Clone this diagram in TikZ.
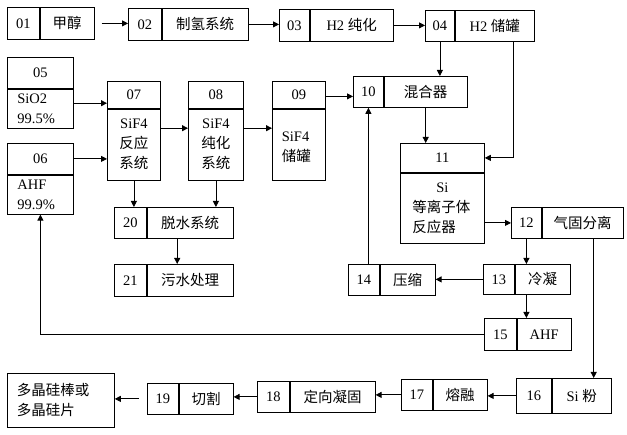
\documentclass[tikz,border=0pt]{standalone}
\usepackage{fontspec}
\setmainfont{Liberation Serif}
\newfontfamily\cjk{Noto Sans CJK SC}
\newcommand{\zh}[1]{{\cjk #1}}
\usepackage{tikz}
\usetikzlibrary{arrows.meta, positioning}
\tikzset{
  cell/.style    = {draw, line width=0.8pt, inner sep=0pt,
                    font=\fontsize{14.5}{20}\selectfont},
  numcell/.style = {cell, anchor=north west},
  txtcell/.style = {cell, align=center},
  lftcell/.style = {cell, align=left, text width=#1},
  flow/.style    = {line width=0.8pt, -{Triangle[length=6pt, width=6pt]}},
  plain/.style   = {line width=0.8pt},
}

\begin{document}
\begin{tikzpicture}[x=1pt, y=-1pt]
  \useasboundingbox (0,0) rectangle (627,435);
  % top row: hydrogen
  \node[numcell, minimum width=32pt, minimum height=32pt] (n01) at (7,7) {01};
  \node[txtcell, minimum width=54pt, minimum height=32pt, right=0pt of n01] (t01) {\zh{甲醇}};
  \node[numcell, minimum width=33pt, minimum height=32pt] (n02) at (128,8) {02};
  \node[txtcell, minimum width=86pt, minimum height=32pt, right=0pt of n02] (t02) {\zh{制氢系统}};
  \node[numcell, minimum width=30pt, minimum height=32pt] (n03) at (279,9) {03};
  \node[txtcell, minimum width=83pt, minimum height=32pt, right=0pt of n03] (t03) {H2 \zh{纯化}};
  \node[numcell, minimum width=29pt, minimum height=31pt] (n04) at (425,10) {04};
  \node[txtcell, minimum width=79pt, minimum height=31pt, right=0pt of n04] (t04) {H2 \zh{储罐}};
  \node[numcell, minimum width=30pt, minimum height=31pt] (n10) at (353,76) {10};
  \node[txtcell, minimum width=83pt, minimum height=31pt, right=0pt of n10] (t10) {\zh{混合器}};
  % raw materials and SiF4 line
  \node[numcell, minimum width=66pt, minimum height=31pt] (n05) at (7,57) {05};
  \node[lftcell=46pt, minimum width=66pt, minimum height=39pt, below=0pt of n05] (b05) {SiO2\\99.5\%};
  \node[numcell, minimum width=66pt, minimum height=31pt] (n06) at (7,143) {06};
  \node[lftcell=46pt, minimum width=66pt, minimum height=39pt, below=0pt of n06] (b06) {AHF\\99.9\%};
  \node[numcell, minimum width=53pt, minimum height=27pt] (n07) at (107,81) {07};
  \node[txtcell, minimum width=53pt, minimum height=71pt, below=0pt of n07] (b07) {SiF4\\\zh{反应}\\\zh{系统}};
  \node[numcell, minimum width=55pt, minimum height=27pt] (n08) at (188,81) {08};
  \node[txtcell, minimum width=55pt, minimum height=71pt, below=0pt of n08] (b08) {SiF4\\\zh{纯化}\\\zh{系统}};
  \node[numcell, minimum width=53pt, minimum height=27pt] (n09) at (272,81) {09};
  \node[lftcell=34pt, minimum width=53pt, minimum height=71pt, below=0pt of n09] (b09) {\\[-6pt]SiF4\\\zh{储罐}};
  \node[numcell, minimum width=84pt, minimum height=29pt] (n11) at (400,143) {11};
  \node[lftcell=60pt, minimum width=84pt, minimum height=70pt, below=0pt of n11] (b11)
    {\makebox[60pt]{Si}\\\zh{等离子体}\\\zh{反应器}\\[2pt]};
  \node[numcell, minimum width=32pt, minimum height=31pt] (n20) at (114,207) {20};
  \node[txtcell, minimum width=86pt, minimum height=31pt, right=0pt of n20] (t20) {\zh{脱水系统}};
  \node[numcell, minimum width=32pt, minimum height=32pt] (n21) at (114,264) {21};
  \node[txtcell, minimum width=86pt, minimum height=32pt, right=0pt of n21] (t21) {\zh{污水处理}};
  % separation loop
  \node[numcell, minimum width=30pt, minimum height=31pt] (n12) at (511,207) {12};
  \node[txtcell, minimum width=81pt, minimum height=31pt, right=0pt of n12] (t12) {\zh{气固分离}};
  \node[numcell, minimum width=31pt, minimum height=30pt] (n13) at (483,264) {13};
  \node[txtcell, minimum width=55pt, minimum height=30pt, right=0pt of n13] (t13) {\zh{冷凝}};
  \node[numcell, minimum width=31pt, minimum height=31pt] (n14) at (348,264) {14};
  \node[txtcell, minimum width=55pt, minimum height=31pt, right=0pt of n14] (t14) {\zh{压缩}};
  \node[numcell, minimum width=32pt, minimum height=32pt] (n15) at (484,318) {15};
  \node[txtcell, minimum width=54pt, minimum height=32pt, right=0pt of n15] (t15) {AHF};
  % bottom row: silicon
  \node[numcell, minimum width=35pt, minimum height=35pt] (n16) at (516,378) {16};
  \node[txtcell, minimum width=59pt, minimum height=35pt, right=0pt of n16] (t16) {Si \zh{粉}};
  \node[numcell, minimum width=31pt, minimum height=31pt] (n17) at (401,379) {17};
  \node[txtcell, minimum width=54pt, minimum height=31pt, right=0pt of n17] (t17) {\zh{熔融}};
  \node[numcell, minimum width=32pt, minimum height=31pt] (n18) at (257,381) {18};
  \node[txtcell, minimum width=85pt, minimum height=31pt, right=0pt of n18] (t18) {\zh{定向凝固}};
  \node[numcell, minimum width=31pt, minimum height=31pt] (n19) at (147,383) {19};
  \node[txtcell, minimum width=54pt, minimum height=31pt, right=0pt of n19] (t19) {\zh{切割}};
  \node[numcell, lftcell=88pt, minimum width=107pt, minimum height=54pt] (fin) at (7,373)
    {\zh{多晶硅棒或}\\\zh{多晶硅片}};

  \draw[flow, shorten <=7pt] (t01.east) -- (t01.east -| n02.west);
  \draw[flow] (t02.east) -- (t02.east -| n03.west);
  \draw[flow] (t03.east) -- (t03.east -| n04.west);
  \draw[flow] (n04.south) -- (n04.south |- t10.north);
  \draw[flow] ([xshift=18.5pt]t04.south) |- (n11.east);
  \draw[flow] ([yshift=5.5pt]b05.east) -- ([yshift=5.5pt]b05.east -| n07.west);
  \draw[flow] (n06.east) -- (n06.east -| b07.west);
  \draw[flow] ([yshift=16.5pt]b07.east) -- ([yshift=16.5pt]b07.east -| b08.west);
  \draw[flow] ([yshift=16.5pt]b08.east) -- ([yshift=16.5pt]b08.east -| b09.west);
  \draw[flow] ([yshift=-1.5pt]n09.east) -- ([yshift=-1.5pt]n09.east -| n10.west);
  \draw[flow] (b07.south) -- (b07.south |- n20.north);
  \draw[flow] (b08.south) -- (b08.south |- t20.north);
  \draw[flow] ([xshift=-13pt]t20.south) -- ([xshift=-13pt]t21.north);
  \draw[flow] (t10.south) -- (t10.south |- n11.north);
  \draw[flow] (b11.east |- n12.west) -- (n12.west);
  \draw[flow] (n12.south) -- (n12.south |- t13.north);
  \draw[flow] (n13.west) -- (n13.west -| t14.east);
  \draw[flow] (n10.south |- n14.north) -- (n10.south);
  \draw[flow] (n12.south |- t13.south) -- (n12.south |- t15.north);
  \draw[flow] (n15.west) -| (b06.south);
  \draw[flow] ([xshift=11pt]t12.south) -- ([xshift=11pt]t12.south |- t16.north);
  \draw[flow] (n16.west) -- (n16.west -| t17.east);
  \draw[flow] (n17.west) -- (n17.west -| t18.east);
  \draw[flow] (n18.west) -- (n18.west -| t19.east);
  \draw[flow, shorten <=8pt] (n19.west) -- (n19.west -| fin.east);
\end{tikzpicture}
\end{document}
